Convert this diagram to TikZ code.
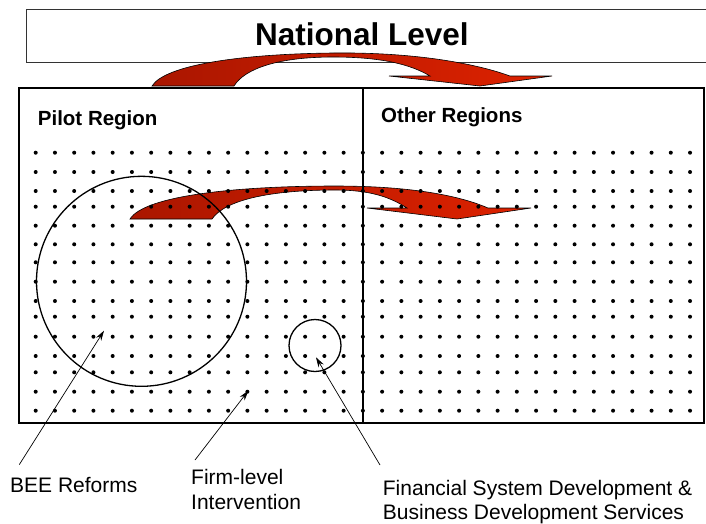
\documentclass[tikz,border=0pt]{standalone}
\usepackage{fontspec}
\setmainfont{Liberation Sans}
\usetikzlibrary{arrows.meta}
\definecolor{arrowdark}{RGB}{170,22,0}
\definecolor{arrowlight}{RGB}{222,34,0}
\tikzset{
  flowarrow/.style={draw=black, line width=0.6pt, left color=arrowdark, right color=arrowlight},
  pointer/.style={-{Stealth[length=10pt,width=6pt]}, line width=0.7pt},
  pointertext/.style={inner sep=0pt, font=\fontsize{21}{24.7}\selectfont, align=left},
  regiontitle/.style={inner sep=0pt, font=\fontsize{20.5}{24}\selectfont\bfseries},
}
\begin{document}
\begin{tikzpicture}[x=1pt,y=-1pt]
\useasboundingbox (0,0) rectangle (706,523);

% National level box (runs off the right edge)
\draw[line width=0.9pt, draw=black!80] (712,9.3) -- (26.7,9.3) -- (26.7,62) -- (712,62);
\node[anchor=base west, inner sep=0pt, font=\fontsize{31.5}{36}\selectfont\bfseries] (national) at (255,45) {National Level};

% Curved arrows: national level and pilot region spreading to other regions
\path[flowarrow] (152,86) .. controls (165,65) and (240,54) .. (333,53)
  .. controls (420,52) and (480,65) .. (510,76) -- (552,76) -- (480,86) -- (389,76) -- (430,76)
  .. controls (410,64) and (380,57) .. (333,57) .. controls (280,57) and (245,68) .. (234,86) -- cycle;
\path[flowarrow] (130,219) .. controls (145,195) and (240,186) .. (335,186)
  .. controls (420,186) and (465,198) .. (488,208) -- (531,208) -- (457,219) -- (367,208) -- (407,208)
  .. controls (390,197) and (370,190) .. (335,190) .. controls (270,190) and (225,200) .. (212,219) -- cycle;

% Dot grid over both regions
\foreach \y in {152.7,172,191,206.7,225.7,244.3,262.3,281.7,301,316.7,336.7,356,372.3,391.7,410.7}
  \foreach \i in {0,...,34}
    \fill (35.7+\i*19.245,\y) circle (2pt);

% Regions
\draw[line width=2pt] (19.3,87.7) rectangle (704,423.3);
\draw[line width=2pt] (363.3,87.7) -- (363.3,423.3);
\node[regiontitle, anchor=base west] (pilot) at (37.7,125.4) {Pilot Region};
\node[regiontitle, anchor=base west] (other) at (381,122.4) {Other Regions};

% Intervention circles
\draw[line width=1.3pt] (141.5,281.3) circle (105pt);
\draw[line width=1.3pt] (315,345.5) circle (26pt);

% Labels and pointers
\node[pointertext, anchor=base west] (bee) at (10,492.4) {BEE Reforms};
\node[pointertext, anchor=north west] (firm) at (191,469) {Firm-level\\Intervention};
\node[pointertext, anchor=north west] (fin) at (382.7,479.6) {Financial System Development \&\\Business Development Services};
\coordinate (beetip) at (104,330.7);
\coordinate (firmtip) at (248.3,390.7);
\coordinate (fintip) at (316,357.3);
\draw[pointer] ([shift={(9.3pt,12.4pt)}]bee.north west) -- (beetip);
\draw[pointer] ([shift={(4pt,9pt)}]firm.north west) -- (firmtip);
\draw[pointer] ([shift={(-2.7pt,14.6pt)}]fin.north west) -- (fintip);
\end{tikzpicture}
\end{document}
